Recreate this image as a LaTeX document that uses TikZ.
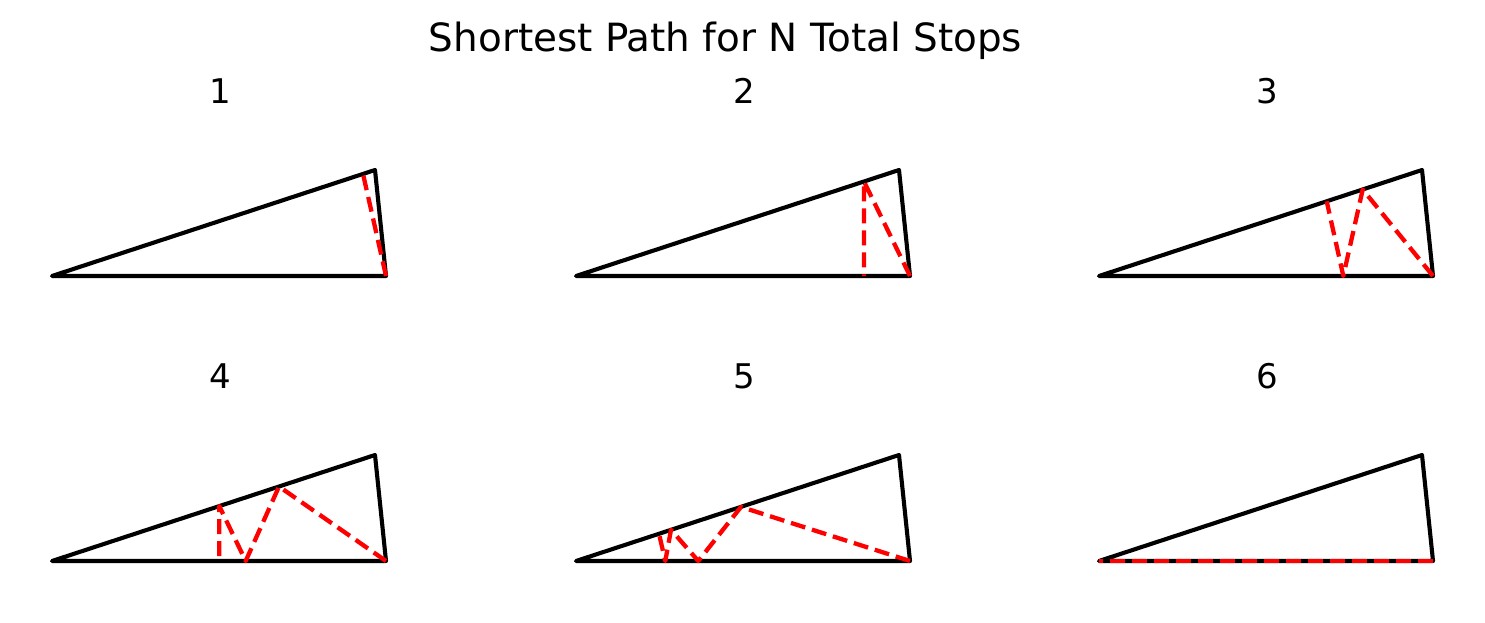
\documentclass[tikz,border=0pt]{standalone}
\usepackage{fontspec}
\setmainfont{DejaVu Sans}
\begin{document}
\begin{tikzpicture}[x=1pt,y=-1pt,
  tri/.style={draw=black,line width=4.1pt,line join=round},
  route/.style={draw=red,line width=4.3pt,line join=round,dash pattern=on 15pt off 7pt},
  ttl/.style={font=\fontsize{38.9}{42}\selectfont,anchor=base,inner sep=0pt},
  lbl/.style={font=\fontsize{34}{38}\selectfont,anchor=base,inner sep=0pt}]
\useasboundingbox (0,0) rectangle (1485,622);
\node[ttl] (title) at (725.5,51) {Shortest Path for N Total Stops};
% panels: origin = bottom-left vertex
\foreach \n/\ox/\oy in {1/52/276,2/576/276,3/1099/276,4/52/561,5/576/561,6/1099/561}{
  \begin{scope}[shift={(\ox,\oy)}]
    \coordinate (B\n) at (0,0);
    \coordinate (C\n) at (334,0);
    \coordinate (A\n) at (323,-106);
    \draw[tri] (B\n) -- (C\n) -- (A\n) -- cycle;
    \node[lbl] (t\n) at (168,-173) {\n};
  \end{scope}
}
\begin{scope}[shift={(52,276)}]
  \draw[route] (334,0) -- (311,-102.1);
\end{scope}
\begin{scope}[shift={(576,276)}]
  \draw[route] (334,0) -- (288,-94.5) -- (288,0);
\end{scope}
\begin{scope}[shift={(1099,276)}]
  \draw[route] (334,0) -- (263.7,-86.5) -- (244.3,0) -- (227.7,-74.7);
\end{scope}
\begin{scope}[shift={(52,561)}]
  \draw[route] (334,0) -- (227,-74.5) -- (193.7,0) -- (167.3,-54.9) -- (167.3,0);
\end{scope}
\begin{scope}[shift={(576,561)}]
  \draw[route] (334,0) -- (165,-54.1) -- (122.3,0) -- (95,-31.2) -- (89.3,0) -- (83,-27.2);
\end{scope}
\draw[route] (C6) -- (B6);
\end{tikzpicture}
\end{document}
